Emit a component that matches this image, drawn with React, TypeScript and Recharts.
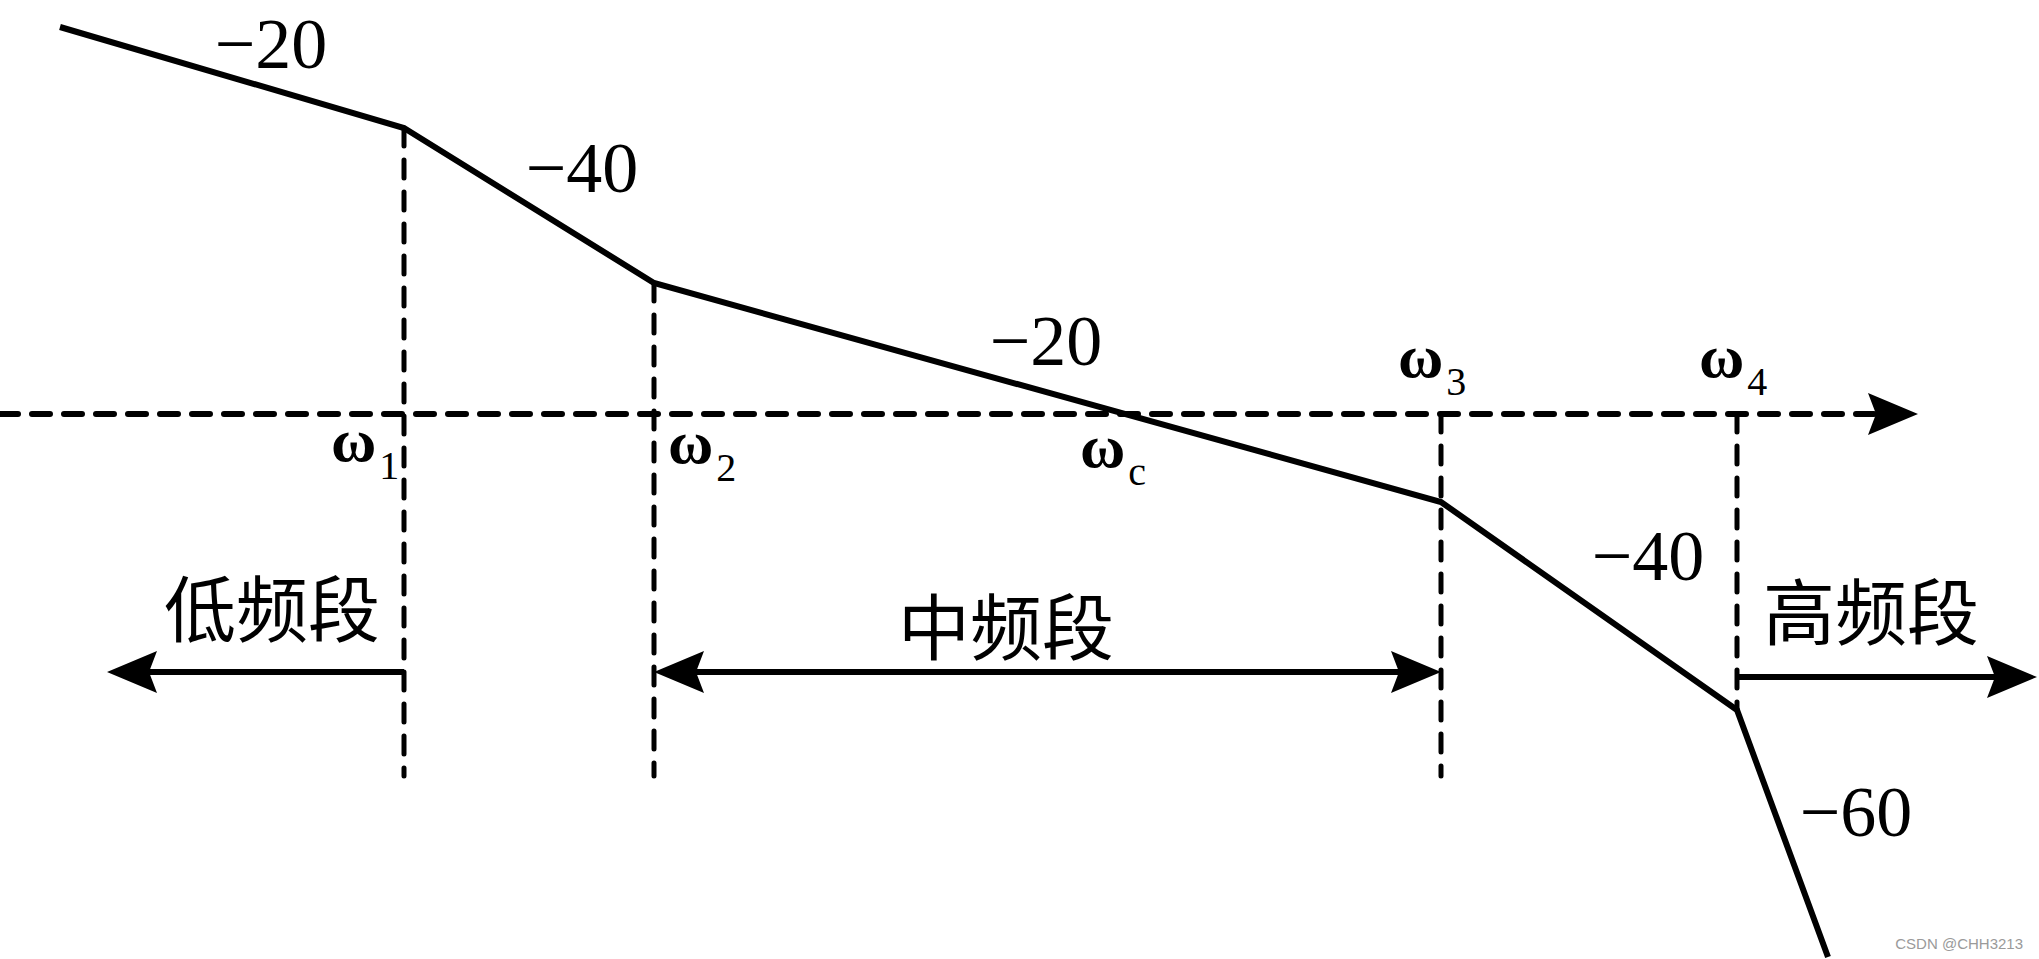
import React from 'react';
import { LineChart, Line, XAxis, YAxis, ReferenceLine, ReferenceDot } from 'recharts';

// asymptotic magnitude curve: x = lg(omega) in drawing units, y = L(omega) in dB
const lgOmega = [0.6, 4.04, 6.54, 14.41, 17.37, 18.28];
const magDb = [38.7, 28.6, 13.1, -8.8, -29.6, -54.3];

// corner frequencies and how far their dashed guides go down
const cornerNames = ['ω1', 'ω2', 'ω3', 'ω4'];
const cornerX = [4.04, 6.54, 14.41, 17.37];
const cornerTop = [28.6, 13.1, 0, 0];
const cornerBottom = [-36.2, -36.2, -36.2, -29.6];

// slope labels (dB/dec)
const slopeText = ['−20', '−40', '−20', '−40', '−60'];
const slopeX = [2.71, 5.82, 10.46, 16.48, 18.56];
const slopeY = [34.6, 22.2, 4.9, -16.6, -42.2];

// omega labels: base letter + subscript
const omegaSub = ['1', '2', 'c', '3', '4'];
const omegaX = [3.31, 6.68, 10.8, 13.98, 16.99];
const omegaY = [-4.7, -4.9, -5.3, 3.7, 3.7];

// band labels
const bandText = ['低频段', '中频段', '高频段'];
const bandX = [2.72, 10.06, 18.71];
const bandY = [-19.0, -20.8, -19.3];

const axisEnd = 19.18;
const lowBand = { from: 4.04, to: 1.07, y: -25.8 };
const midBand = { from: 6.54, to: 14.41, y: -25.8 };
const highBand = { from: 17.37, to: 20.37, y: -26.3 };

const data = lgOmega.map((x, i) => ({ x, y: magDb[i] }));

const W = 2039;
const H = 959;
const serif = '"Liberation Serif", "Times New Roman", serif';

const arrowShape = (dashed: boolean, both: boolean) => (p: any) => {
  const { x1, y1, x2, y2 } = p;
  const L = 50, HW = 21, N = 8;
  const a = Math.atan2(y2 - y1, x2 - x1);
  const ux = Math.cos(a), uy = Math.sin(a);
  const head = (tx: number, ty: number, dx: number, dy: number) => {
    const bx = tx - L * dx, by = ty - L * dy;
    const pts = [
      [tx, ty],
      [bx - HW * dy, by + HW * dx],
      [tx - (L - N) * dx, ty - (L - N) * dy],
      [bx + HW * dy, by - HW * dx],
    ];
    return pts.map((q) => q.join(',')).join(' ');
  };
  const sx = both ? x1 + (L - N) * ux : x1;
  const sy = both ? y1 + (L - N) * uy : y1;
  const ex = x2 - (L - N) * ux;
  const ey = y2 - (L - N) * uy;
  return (
    <g>
      <line
        x1={sx}
        y1={sy}
        x2={ex}
        y2={ey}
        stroke="#000"
        strokeWidth={6}
        strokeDasharray={dashed ? '18 14' : undefined}
        strokeLinecap={dashed ? 'round' : 'butt'}
      />
      <polygon points={head(x2, y2, ux, uy)} fill="#000" />
      {both && <polygon points={head(x1, y1, -ux, -uy)} fill="#000" />}
    </g>
  );
};

const slopeLabel = (text: string) => (p: any) => (
  <text x={p.cx} y={p.cy} textAnchor="middle" fontFamily={serif} fontSize={72} fill="#000">
    {text}
  </text>
);

const omegaLabel = (sub: string) => (p: any) => (
  <text x={p.cx} y={p.cy} textAnchor="start" fontFamily={serif} fontSize={62} fontWeight="bold" fill="#000">
    ω
    <tspan dx={3} dy={18} fontSize={40} fontWeight="normal">
      {sub}
    </tspan>
  </text>
);

const bandLabel = (text: string) => (p: any) => (
  <text
    x={p.cx}
    y={p.cy}
    textAnchor="middle"
    dominantBaseline="central"
    fontFamily='"Noto Sans CJK SC", sans-serif'
    fontSize={72}
    fill="#000"
  >
    {text}
  </text>
);

const watermark = (p: any) => (
  <text
    x={p.cx}
    y={p.cy}
    textAnchor="end"
    dominantBaseline="central"
    fontFamily='"Liberation Sans", Arial, sans-serif'
    fontSize={15}
    fill="#9a9a9a"
  >
    CSDN @CHH3213
  </text>
);

export default function App() {
  return (
    <div style={{ position: 'absolute', left: 0, top: 0, width: W, height: H, background: '#fff' }}>
      <LineChart width={W} height={H} data={data} margin={{ top: 0, right: 0, bottom: 0, left: 0 }}>
        <XAxis type="number" dataKey="x" domain={[0, 20.39]} hide />
        <YAxis type="number" domain={[-54.5, 41.4]} hide />

        {/* 0 dB axis with arrow */}
        <ReferenceLine
          segment={[
            { x: 0, y: 0 },
            { x: axisEnd, y: 0 },
          ]}
          shape={arrowShape(true, false)}
        />

        {/* dashed guides at corner frequencies */}
        {cornerX.map((x, i) => (
          <ReferenceLine
            key={cornerNames[i]}
            segment={[
              { x, y: cornerTop[i] },
              { x, y: cornerBottom[i] },
            ]}
            stroke="#000"
            strokeWidth={5}
            strokeDasharray="18 14"
            strokeLinecap="round"
          />
        ))}

        {/* band arrows */}
        <ReferenceLine
          segment={[
            { x: lowBand.from, y: lowBand.y },
            { x: lowBand.to, y: lowBand.y },
          ]}
          shape={arrowShape(false, false)}
        />
        <ReferenceLine
          segment={[
            { x: midBand.from, y: midBand.y },
            { x: midBand.to, y: midBand.y },
          ]}
          shape={arrowShape(false, true)}
        />
        <ReferenceLine
          segment={[
            { x: highBand.from, y: highBand.y },
            { x: highBand.to, y: highBand.y },
          ]}
          shape={arrowShape(false, false)}
        />

        <Line
          type="linear"
          dataKey="y"
          stroke="#000"
          strokeWidth={6}
          dot={false}
          activeDot={false}
          isAnimationActive={false}
        />

        {slopeText.map((t, i) => (
          <ReferenceDot key={'s' + i} x={slopeX[i]} y={slopeY[i]} r={0} shape={slopeLabel(t)} />
        ))}
        {omegaSub.map((s, i) => (
          <ReferenceDot key={'w' + i} x={omegaX[i]} y={omegaY[i]} r={0} shape={omegaLabel(s)} />
        ))}
        {bandText.map((t, i) => (
          <ReferenceDot key={'b' + i} x={bandX[i]} y={bandY[i]} r={0} shape={bandLabel(t)} />
        ))}
        <ReferenceDot x={20.23} y={-52.9} r={0} shape={watermark} />
      </LineChart>
    </div>
  );
}
